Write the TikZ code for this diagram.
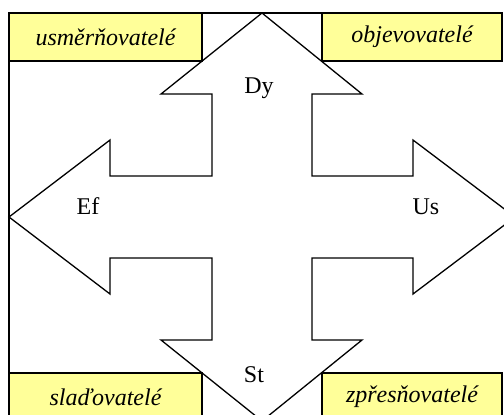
\documentclass[tikz,border=0pt]{standalone}
\usepackage{fontspec}
\setmainfont{Liberation Serif}
\definecolor{boxyellow}{RGB}{255,255,153}

\tikzset{
  rolebox/.style={draw, fill=boxyellow, minimum height=24pt, inner sep=0pt,
    font=\fontsize{12}{14}\selectfont\itshape},
  dirlabel/.style={anchor=base, inner sep=0pt},
}

\begin{document}
\begin{tikzpicture}[x=0.5pt, y=-0.5pt, line width=0.65pt,
    font=\fontsize{12}{14}\selectfont]
      \useasboundingbox (0,0) rectangle (504,414);
      \clip (0,0) rectangle (504,414);

      % frame
      \draw (9,440) -- (9,13) -- (502,13);

      % cross arrow
      \draw[fill=white, line join=miter]
        (262,13) -- (362,94) -- (312,94) -- (312,176) -- (413,176) -- (413,140)
        -- (515,217) -- (413,294) -- (413,258) -- (312,258) -- (312,340)
        -- (362,340) -- (262,421) -- (161,340) -- (212,340) -- (212,258)
        -- (110,258) -- (110,294) -- (9,217) -- (110,140) -- (110,176)
        -- (212,176) -- (212,94) -- (161,94) -- cycle;

      % corner boxes
      \node[rolebox, minimum width=96.5pt] (usm) at (105.5,37) {usměrňovatelé};
      \node[rolebox, minimum width=90pt] (obj) at (412,37) {objevovatelé};
      \node[rolebox, minimum width=96.5pt] (sla) at (105.5,397) {slaďovatelé};
      \node[rolebox, minimum width=90pt] (zpr) at (412,397) {zpřesňovatelé};

      % arrow labels
      \node[dirlabel] (dy) at (259,93) {Dy};
      \node[dirlabel] (ef) at (88,214) {Ef};
      \node[dirlabel] (us) at (426,214) {Us};
      \node[dirlabel] (st) at (254,382) {St};
\end{tikzpicture}
\end{document}
